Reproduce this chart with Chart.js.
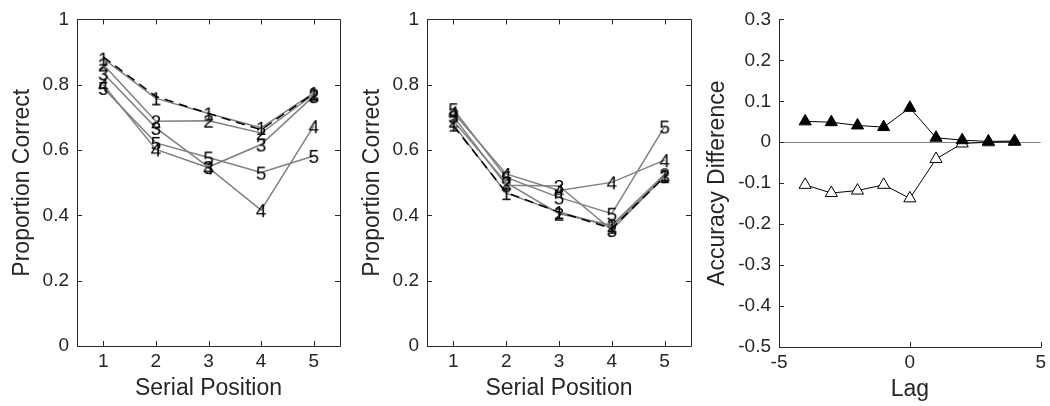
<!DOCTYPE html>
<html>
<head>
<meta charset="utf-8">
<script src="https://cdn.jsdelivr.net/npm/chart.js@4/dist/chart.umd.min.js"></script>
<style>
  html, body { margin: 0; padding: 0; background: #fff; }
  #wrap { position: relative; width: 1050px; height: 406px; }
  #wrap canvas { position: absolute; top: 0; }
</style>
</head>
<body>
<div id="wrap">
  <canvas id="leftChart" width="355" height="406" style="left:0"></canvas>
  <canvas id="middleChart" width="355" height="406" style="left:350px"></canvas>
  <canvas id="lagChart" width="350" height="406" style="left:700px"></canvas>
</div>
<script>
// Serial position panels
const serialPositions = [1, 2, 3, 4, 5];
const proportionTicks = [0, 0.2, 0.4, 0.6, 0.8, 1];
const seriesLabels = ["1", "2", "3", "4", "5"];

const leftFit = [0.885, 0.764, 0.712, 0.662, 0.773];
const leftSeries1 = [0.880, 0.758, 0.712, 0.668, 0.775];
const leftSeries2 = [0.862, 0.688, 0.690, 0.652, 0.770];
const leftSeries3 = [0.835, 0.668, 0.548, 0.617, 0.765];
const leftSeries4 = [0.800, 0.602, 0.546, 0.416, 0.673];
const leftSeries5 = [0.790, 0.622, 0.577, 0.531, 0.582];

const middleFit = [0.674, 0.470, 0.410, 0.360, 0.518];
const middleSeries1 = [0.678, 0.468, 0.410, 0.365, 0.520];
const middleSeries2 = [0.690, 0.500, 0.405, 0.370, 0.526];
const middleSeries3 = [0.703, 0.492, 0.490, 0.355, 0.520];
const middleSeries4 = [0.715, 0.527, 0.476, 0.501, 0.569];
const middleSeries5 = [0.725, 0.516, 0.455, 0.405, 0.672];

// Lag panel
const lags = [-4, -3, -2, -1, 0, 1, 2, 3, 4];
const lagTicks = [-5, 0, 5];
const diffTicks = [-0.5, -0.4, -0.3, -0.2, -0.1, 0, 0.1, 0.2, 0.3];
const diffFilled = [0.051, 0.049, 0.041, 0.037, 0.084, 0.011, 0.005, 0.002, 0.003];
const diffOpen = [-0.104, -0.124, -0.118, -0.104, -0.137, -0.041, -0.003, 0.000, 0.001];

const textColor = "#262626";
const fontFamily = '"Liberation Sans", Arial, Helvetica, sans-serif';
Chart.defaults.font.family = fontFamily;

function points(xs, ys) {
    return xs.map((x, i) => ({ x: x, y: ys[i] }));
}

// Digit drawn as the point marker
function digitMarker(text) {
    const c = document.createElement("canvas");
    c.width = 18;
    c.height = 22;
    const g = c.getContext("2d");
    g.font = "19px " + fontFamily;
    g.fillStyle = "#000";
    g.textAlign = "center";
    g.fillText(text, 9, 18);
    return c;
}

// Axis frame with ticks pointing inward
const framePlugin = {
    id: "frame",
    afterDraw(chart, args, opts) {
        const { ctx, chartArea: a, scales } = chart;
        const len = 5;
        ctx.save();
        ctx.strokeStyle = textColor;
        ctx.lineWidth = 1;
        ctx.beginPath();
        scales.x.ticks.forEach(t => {
            const px = Math.round(scales.x.getPixelForValue(t.value)) + 0.5;
            ctx.moveTo(px, a.bottom);
            ctx.lineTo(px, a.bottom - len);
            if (opts.box) {
                ctx.moveTo(px, a.top);
                ctx.lineTo(px, a.top + len);
            }
        });
        scales.y.ticks.forEach(t => {
            const py = Math.round(scales.y.getPixelForValue(t.value)) + 0.5;
            ctx.moveTo(a.left, py);
            ctx.lineTo(a.left + len, py);
            if (opts.box) {
                ctx.moveTo(a.right, py);
                ctx.lineTo(a.right - len, py);
            }
        });
        const l = Math.round(a.left) + 0.5, r = Math.round(a.right) + 0.5;
        const t = Math.round(a.top) + 0.5, b = Math.round(a.bottom) + 0.5;
        ctx.moveTo(l, t);
        ctx.lineTo(l, b);
        ctx.lineTo(r, b);
        if (opts.box) {
            ctx.lineTo(r, t);
            ctx.lineTo(l, t);
        }
        ctx.stroke();
        ctx.restore();
    }
};

// top padding = gap from the left edge, bottom padding = gap from the bottom edge
function axisTitle(text, edgeGap) {
    return { display: true, text: text, color: textColor, font: { size: 23 }, padding: { top: edgeGap, bottom: edgeGap } };
}

function serialChart(id, fit, seriesList, rightPad) {
    const datasets = [{
        data: points(serialPositions, fit),
        borderColor: "#000",
        borderWidth: 1.5,
        borderDash: [9, 6],
        pointRadius: 0,
        clip: false
    }];
    seriesList.forEach((values, i) => {
        datasets.push({
            data: points(serialPositions, values),
            borderColor: "#808080",
            borderWidth: 1.5,
            pointStyle: digitMarker(seriesLabels[i]),
            pointRadius: 8,
            pointBorderWidth: 0,
            clip: false
        });
    });

    return new Chart(document.getElementById(id), {
        type: "line",
        data: { datasets: datasets },
        plugins: [framePlugin],
        options: {
            responsive: false,
            animation: false,
            events: [],
            layout: { padding: { top: 15, right: rightPad, left: 0, bottom: 0 } },
            plugins: { legend: { display: false }, tooltip: { enabled: false }, frame: { box: true } },
            scales: {
                x: {
                    type: "linear",
                    min: 0.5,
                    max: 5.5,
                    afterBuildTicks: s => { s.ticks = serialPositions.map(v => ({ value: v })); },
                    afterFit: s => { s.height = 60; },
                    grid: { display: false, drawTicks: false },
                    border: { display: false },
                    ticks: { color: textColor, font: { size: 19 }, padding: 4 },
                    title: axisTitle("Serial Position", 4)
                },
                y: {
                    min: 0,
                    max: 1,
                    afterBuildTicks: s => { s.ticks = proportionTicks.map(v => ({ value: v })); },
                    afterFit: s => { s.width = 77; },
                    grid: { display: false, drawTicks: false },
                    border: { display: false },
                    ticks: { color: textColor, font: { size: 19 }, padding: 8, callback: v => String(v) },
                    title: axisTitle("Proportion Correct", 9)
                }
            }
        }
    });
}

serialChart("leftChart", leftFit,
    [leftSeries1, leftSeries2, leftSeries3, leftSeries4, leftSeries5], 15);
serialChart("middleChart", middleFit,
    [middleSeries1, middleSeries2, middleSeries3, middleSeries4, middleSeries5], 14);

new Chart(document.getElementById("lagChart"), {
    type: "line",
    data: {
        datasets: [{
            data: points(lags, diffFilled),
            borderColor: "#000",
            borderWidth: 1,
            pointStyle: "triangle",
            pointRadius: 7,
            pointBackgroundColor: "#000",
            pointBorderColor: "#000",
            pointBorderWidth: 1,
            clip: false
        }, {
            data: points(lags, diffOpen),
            borderColor: "#000",
            borderWidth: 1,
            pointStyle: "triangle",
            pointRadius: 7,
            pointBackgroundColor: "#fff",
            pointBorderColor: "#000",
            pointBorderWidth: 1,
            clip: false
        }]
    },
    plugins: [framePlugin],
    options: {
        responsive: false,
        animation: false,
        events: [],
        layout: { padding: { top: 15, right: 9, left: 0, bottom: 0 } },
        plugins: { legend: { display: false }, tooltip: { enabled: false }, frame: { box: false } },
        scales: {
            x: {
                type: "linear",
                min: -5,
                max: 5,
                afterBuildTicks: s => { s.ticks = lagTicks.map(v => ({ value: v })); },
                afterFit: s => { s.height = 59; },
                grid: { display: false, drawTicks: false },
                border: { display: false },
                ticks: { color: textColor, font: { size: 19 }, padding: 4, callback: v => String(v) },
                title: axisTitle("Lag", 3)
            },
            y: {
                min: -0.5,
                max: 0.3,
                afterBuildTicks: s => { s.ticks = diffTicks.map(v => ({ value: v })); },
                afterFit: s => { s.width = 79; },
                grid: {
                    drawTicks: false,
                    lineWidth: 1,
                    color: c => (c.tick && c.tick.value === 0 ? "#808080" : "rgba(0,0,0,0)")
                },
                border: { display: false },
                ticks: { color: textColor, font: { size: 19 }, padding: 8, callback: v => String(v) },
                title: axisTitle("Accuracy Difference", 4)
            }
        }
    }
});
</script>
</body>
</html>
